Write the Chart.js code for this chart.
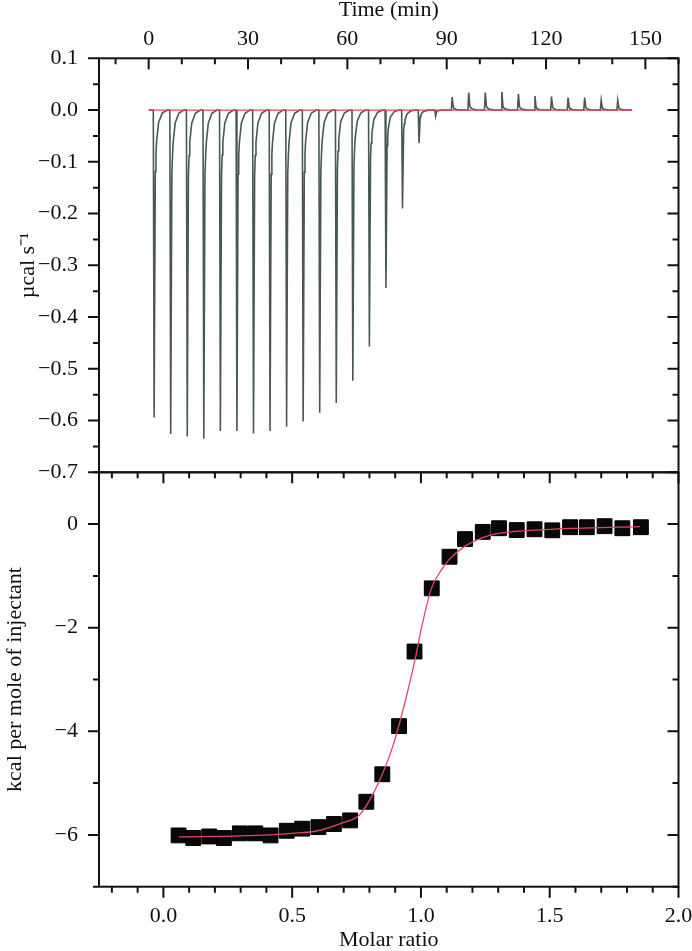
<!DOCTYPE html>
<html>
<head>
<meta charset="utf-8">
<script src="https://cdn.jsdelivr.net/npm/chart.js@4.4.1/dist/chart.umd.min.js"></script>
<style>
  html, body { margin: 0; padding: 0; background: #fff; }
  #wrap { position: relative; width: 692px; height: 951px; }
  canvas { position: absolute; left: 0; top: 0; }
</style>
</head>
<body>
<div id="wrap">
  <canvas id="raw" width="692" height="951"></canvas>
  <canvas id="heats" width="692" height="951"></canvas>
</div>
<script>
// raw thermogram, one injection every 5 min
const injectionTimes = [1.4, 6.4, 11.4, 16.4, 21.4, 26.4, 31.4, 36.4, 41.4, 46.4, 51.4, 56.4, 61.4, 66.4, 71.4, 76.4, 81.4, 86.4, 91.4, 96.4, 101.4, 106.4, 111.4, 116.4, 121.4, 126.4, 131.4, 136.4, 141.4]
const peakPower = [-0.594, -0.626, -0.631, -0.635, -0.620, -0.620, -0.625, -0.620, -0.612, -0.602, -0.585, -0.566, -0.523, -0.457, -0.344, -0.190, -0.064, -0.012, 0.025, 0.034, 0.034, 0.035, 0.031, 0.027, 0.026, 0.024, 0.024, 0.019, 0.019]
// one peak: minutes after injection / share of peak height
const peakShapeTime = [0, 0.25, 0.6, 0.8, 1.0, 1.6, 2.7, 4.2]
const peakShapeFrac = [0, 1, 0.2, 0.14, 0.1, 0.04, 0.01, 0]
const traceStart = 0
const traceEnd = 146
const baselineTime = [0, 146]
const baselinePower = [0, 0]

// integrated heats
const molarRatio = [0.059, 0.116, 0.178, 0.235, 0.297, 0.357, 0.416, 0.479, 0.539, 0.602, 0.662, 0.725, 0.788, 0.850, 0.915, 0.975, 1.042, 1.111, 1.171, 1.240, 1.303, 1.372, 1.441, 1.510, 1.579, 1.644, 1.713, 1.782, 1.854]
const heat = [-6.01, -6.06, -6.03, -6.06, -5.97, -5.97, -6.01, -5.92, -5.88, -5.85, -5.79, -5.72, -5.36, -4.83, -3.90, -2.46, -1.24, -0.63, -0.29, -0.15, -0.08, -0.115, -0.10, -0.12, -0.06, -0.06, -0.04, -0.08, -0.06]
const fitRatio = [0.06, 0.3, 0.5, 0.6, 0.7, 0.76, 0.82, 0.89, 0.94, 0.98, 1.0, 1.04, 1.08, 1.11, 1.17, 1.24, 1.30, 1.5, 1.85]
const fitHeat = [-6.04, -6.02, -5.97, -5.92, -5.76, -5.62, -5.15, -4.30, -3.40, -2.55, -2.05, -1.25, -0.88, -0.68, -0.43, -0.26, -0.18, -0.10, -0.05]

const red = '#e2475f'
const minus = s => s.replace('-', '\u2212')
const isMult = (v, step) => Math.abs(v / step - Math.round(v / step)) < 1e-6

Chart.defaults.font.family = "'Liberation Serif', 'Times New Roman', serif"
Chart.defaults.font.size = 22
Chart.defaults.color = '#111'

// frame round the plot area, ticks drawn from the scales' own tick lists
const frame = {
  id: 'frame',
  afterDraw (chart, args, opts) {
    const { ctx, chartArea: a } = chart
    ctx.save()
    ctx.strokeStyle = '#111'
    ctx.lineWidth = 2
    ctx.strokeRect(a.left, a.top, a.right - a.left, a.bottom - a.top)
    for (const m of opts.marks) {
      const s = chart.scales[m.id]
      ctx.beginPath()
      for (const t of s.ticks) {
        const p = s.getPixelForValue(t.value)
        const len = m.major(t.value) ? 11 : 6
        for (const side of m.sides) {
          if (side === 'left') { ctx.moveTo(a.left, p); ctx.lineTo(a.left - len, p) }
          if (side === 'right') { ctx.moveTo(a.right, p); ctx.lineTo(a.right - len, p) }
          if (side === 'top') { ctx.moveTo(p, a.top); ctx.lineTo(p, a.top + len) }
          if (side === 'bottom') { ctx.moveTo(p, a.bottom); ctx.lineTo(p, a.bottom + len) }
        }
      }
      ctx.stroke()
    }
    ctx.restore()
  }
}

// keep the plot area where the frame is, whatever the end labels need
const fixHeight = h => s => { s.height = h; s.paddingLeft = 0; s.paddingRight = 0 }
const fixWidth = w => s => { s.width = w; s.paddingTop = 0; s.paddingBottom = 0 }

const trace = [{ x: traceStart, y: 0 }]
injectionTimes.forEach((t, i) => {
  peakShapeTime.forEach((dt, k) => {
    trace.push({ x: t + dt, y: peakPower[i] * peakShapeFrac[k] })
  })
})
trace.push({ x: traceEnd, y: 0 })

const noGrid = { display: false, drawTicks: false }

new Chart(document.getElementById('raw'), {
  type: 'scatter',
  data: {
    datasets: [
      {
        data: baselineTime.map((x, i) => ({ x, y: baselinePower[i] })),
        showLine: true,
        borderColor: red,
        borderWidth: 1.3,
        pointRadius: 0
      },
      {
        data: trace,
        showLine: true,
        borderColor: '#4a5757',
        borderWidth: 1.6,
        pointRadius: 0
      }
    ]
  },
  options: {
    responsive: false,
    animation: false,
    devicePixelRatio: 1,
    layout: { padding: { left: 0, right: 13.5, top: 0, bottom: 478.7 } },
    plugins: {
      legend: { display: false },
      tooltip: { enabled: false },
      frame: {
        marks: [
          { id: 'y', sides: ['left', 'right'], major: v => isMult(v, 0.1) },
          { id: 'x', sides: ['top'], major: v => isMult(v, 30) }
        ]
      }
    },
    scales: {
      x: {
        type: 'linear',
        position: 'top',
        min: -15,
        max: 160,
        grid: noGrid,
        border: { display: false },
        ticks: {
          stepSize: 10,
          includeBounds: false,
          autoSkip: false,
          maxRotation: 0,
          padding: 6,
          callback: v => (isMult(v, 30) && v >= 0 && v <= 150) ? String(v) : ''
        },
        title: { display: true, text: 'Time (min)', font: { lineHeight: 1 }, padding: { top: -1, bottom: 0 } },
        afterFit: fixHeight(58.3)
      },
      y: {
        type: 'linear',
        min: -0.7,
        max: 0.1,
        grid: noGrid,
        border: { display: false },
        ticks: {
          stepSize: 0.05,
          autoSkip: false,
          padding: 21,
          callback: v => isMult(v, 0.1) ? minus((Math.abs(v) < 1e-9 ? 0 : v).toFixed(1)) : ''
        },
        title: { display: true, text: '\u00b5cal s\u207b\u00b9', font: { lineHeight: 1 }, padding: { top: 17, bottom: 0 } },
        afterFit: fixWidth(99)
      }
    }
  },
  plugins: [frame]
})

new Chart(document.getElementById('heats'), {
  type: 'scatter',
  data: {
    datasets: [
      {
        data: fitRatio.map((x, i) => ({ x, y: fitHeat[i] })),
        showLine: true,
        borderColor: red,
        borderWidth: 1.3,
        pointRadius: 0,
        cubicInterpolationMode: 'monotone'
      },
      {
        data: molarRatio.map((x, i) => ({ x, y: heat[i] })),
        pointStyle: 'rect',
        pointRadius: 10.5,
        backgroundColor: '#080808',
        borderColor: '#000',
        borderWidth: 1
      }
    ]
  },
  options: {
    responsive: false,
    animation: false,
    devicePixelRatio: 1,
    layout: { padding: { left: 0, right: 13.5, top: 472.3, bottom: 0 } },
    plugins: {
      legend: { display: false },
      tooltip: { enabled: false },
      frame: {
        marks: [
          { id: 'y', sides: ['left', 'right'], major: v => isMult(v, 2) },
          { id: 'x', sides: ['top', 'bottom'], major: v => isMult(v, 0.5) }
        ]
      }
    },
    scales: {
      x: {
        type: 'linear',
        position: 'bottom',
        min: -0.25,
        max: 2.0,
        grid: noGrid,
        border: { display: false },
        ticks: {
          stepSize: 0.1,
          includeBounds: false,
          autoSkip: false,
          maxRotation: 0,
          padding: 16,
          callback: v => (isMult(v, 0.5) && v >= 0) ? v.toFixed(1) : ''
        },
        title: { display: true, text: 'Molar ratio', font: { lineHeight: 1 }, padding: { top: 0, bottom: 0 } },
        afterFit: fixHeight(64.3)
      },
      y: {
        type: 'linear',
        min: -7,
        max: 1,
        grid: noGrid,
        border: { display: false },
        ticks: {
          stepSize: 1,
          autoSkip: false,
          padding: 21,
          callback: v => (isMult(v, 2) && v <= 0 && v >= -6) ? minus(String(Math.abs(v) < 1e-9 ? 0 : v)) : ''
        },
        title: { display: true, text: 'kcal per mole of injectant', font: { lineHeight: 1 }, padding: { top: 4, bottom: 0 } },
        afterFit: fixWidth(99)
      }
    }
  },
  plugins: [frame]
})
</script>
</body>
</html>
